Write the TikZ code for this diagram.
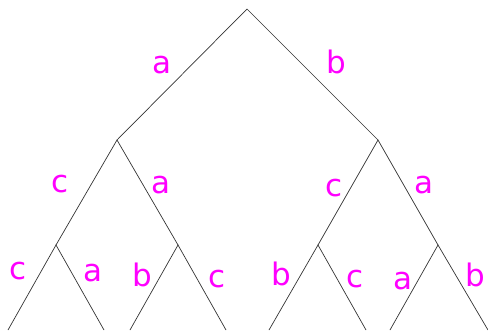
\documentclass[tikz,border=0pt]{standalone}
\usepackage{fontspec}
\setmainfont{DejaVu Sans}
\usepackage{tikz}
\definecolor{lblmag}{RGB}{255,0,255}

\begin{document}
\begin{tikzpicture}[
        x=1pt, y=-1pt,
        edge/.style={draw=black!80, line width=0.7pt},
        lbl/.style={anchor=base, inner sep=0pt, text=lblmag,
                    font=\fontsize{31}{36}\selectfont},
    ]
    \useasboundingbox (0,0) rectangle (488,330);
    % --- Wierzchołki ---
    \coordinate (root) at (247,9);
    \coordinate (l) at (117,140);
    \coordinate (r) at (378,140);
    \coordinate (ll) at (56,245);
    \coordinate (lr) at (178,245);
    \coordinate (rl) at (318,245);
    \coordinate (rr) at (438,245);
    % --- Liście ---
    \coordinate (lll) at (8,330);
    \coordinate (llr) at (104,330);
    \coordinate (lrl) at (130,330);
    \coordinate (lrr) at (226,330);
    \coordinate (rll) at (269,330);
    \coordinate (rlr) at (366,330);
    \coordinate (rrl) at (390,330);
    \coordinate (rrr) at (488,330);

    % --- Krawędzie ---
    \draw[edge] (l) -- (root) -- (r);
    \draw[edge] (ll) -- (l) -- (lr);
    \draw[edge] (rl) -- (r) -- (rr);
    \draw[edge] (lll) -- (ll) -- (llr);
    \draw[edge] (lrl) -- (lr) -- (lrr);
    \draw[edge] (rll) -- (rl) -- (rlr);
    \draw[edge] (rrl) -- (rr) -- (rrr);

    % --- Etykiety ---
    \node[lbl] (tl) at (162,73) {a};
    \node[lbl] (tr) at (336,73) {b};
    \node[lbl] (tll) at (60,192) {c};
    \node[lbl] (tlr) at (161,193) {a};
    \node[lbl] (trl) at (334,196) {c};
    \node[lbl] (trr) at (424,193) {a};
    \node[lbl] (tlll) at (18,279) {c};
    \node[lbl] (tllr) at (93,281) {a};
    \node[lbl] (tlrl) at (142,286) {b};
    \node[lbl] (tlrr) at (217,287) {c};
    \node[lbl] (trll) at (281,285) {b};
    \node[lbl] (trlr) at (355,287) {c};
    \node[lbl] (trrl) at (403,289) {a};
    \node[lbl] (trrr) at (475,286) {b};
\end{tikzpicture}
\end{document}
